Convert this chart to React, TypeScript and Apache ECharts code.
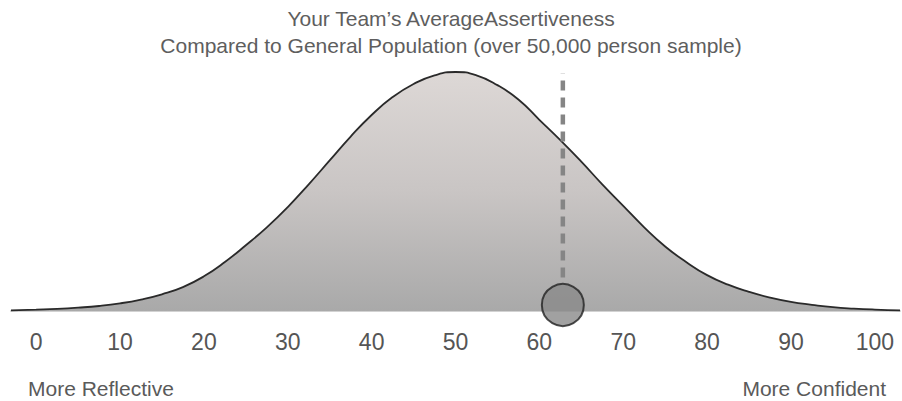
import React, { useEffect, useRef } from "react";
import * as echarts from "echarts";

// Distribution curve (x = score, y = relative frequency, peak = 100)
const xValues = [
  -3, 0, 2.5, 5, 7.5, 10, 12.5, 15, 17.5, 20, 22.5, 25, 27.5, 30, 32.5, 35, 37.5, 40, 42.5, 45, 47.5, 50,
  52.5, 55, 57.5, 60, 62.5, 65, 67.5, 70, 72.5, 75, 77.5, 80, 82.5, 85, 87.5, 90, 92.5, 95, 97.5, 100, 103,
];
const curveValues = [
  0.3, 0.6, 0.9, 1.4, 2.1, 3.2, 4.8, 7.0, 10.0, 14.5, 20.5, 27.5, 35, 43.5, 53, 63, 73, 82, 89.5, 95, 98.6, 100,
  98.6, 94.5, 88.5, 80, 71.5, 62.5, 53, 44, 35, 27, 20.5, 15, 11, 8, 5.6, 3.8, 2.6, 1.6, 1.0, 0.6, 0.3,
];
const tickLabels = [0, 10, 20, 30, 40, 50, 60, 70, 80, 90, 100];

// Team average marker
const markerValue = 62.8;
const markerLineRange = [14, 99.5];
const markerDotLevel = 2.5;

const titleLines = ["Your Team\u2019s AverageAssertiveness", "Compared to General Population (over 50,000 person sample)"];
const leftLabel = "More Reflective";
const rightLabel = "More Confident";

const FONT = "'Liberation Sans', Arial, Helvetica, sans-serif";

export default function App() {
  const ref = useRef<HTMLDivElement>(null);
  useEffect(() => {
    if (!ref.current) return;
    const chart = echarts.init(ref.current, null, { renderer: "svg" });
    const curve = xValues.map((x, i) => [x, curveValues[i]]);
    chart.setOption({
      animation: false,
      grid: { left: 11, right: 2, top: 72, bottom: 90 },
      xAxis: {
        type: "value",
        min: -3,
        max: 103,
        axisLine: { show: true, onZero: false, lineStyle: { color: "#d2d2d2", width: 2 } },
        axisTick: { show: false },
        splitLine: { show: false },
        axisLabel: {
          customValues: tickLabels,
          fontSize: 23,
          color: "#555",
          margin: 19,
          fontFamily: FONT,
        },
      },
      yAxis: { type: "value", min: 0, max: 100, show: false, splitLine: { show: false } },
      graphic: [
        {
          type: "text",
          left: "center",
          top: 5,
          style: {
            text: titleLines.join("\n"),
            fontSize: 21,
            lineHeight: 27,
            fill: "#5e5e5e",
            fontFamily: FONT,
            textAlign: "center",
          },
        },
        {
          type: "text",
          x: 28,
          y: 388,
          style: { text: leftLabel, fontSize: 21, fill: "#5a5a5a", fontFamily: FONT, textVerticalAlign: "middle" },
        },
        {
          type: "text",
          x: 886,
          y: 388,
          style: { text: rightLabel, fontSize: 21, fill: "#5a5a5a", fontFamily: FONT, textAlign: "right", textVerticalAlign: "middle" },
        },
      ],
      series: [
        {
          type: "line",
          data: curve,
          smooth: true,
          symbol: "none",
          clip: false,
          lineStyle: { color: "#2a2a2a", width: 1.8 },
          areaStyle: {
            color: new echarts.graphic.LinearGradient(0, 0, 0, 1, [
              { offset: 0, color: "#ddd8d6" },
              { offset: 0.5, color: "#c9c5c4" },
              { offset: 1, color: "#a9a9a9" },
            ]),
            opacity: 1,
          },
          z: 2,
        },
        {
          type: "line",
          data: markerLineRange.map((v) => [markerValue, v]),
          symbol: "none",
          clip: false,
          lineStyle: { color: "#858585", width: 4.5, type: [10, 7] },
          z: 3,
        },
        {
          type: "scatter",
          data: [[markerValue, markerDotLevel]],
          symbol: "circle",
          symbolSize: 42,
          clip: false,
          itemStyle: { color: "#8a8a8a", borderColor: "#222", borderWidth: 2 },
          z: 4,
        },
      ],
    });
    return () => chart.dispose();
  }, []);
  return <div ref={ref} style={{ width: 902, height: 401, position: "absolute", left: 0, top: 0 }} />;
}
